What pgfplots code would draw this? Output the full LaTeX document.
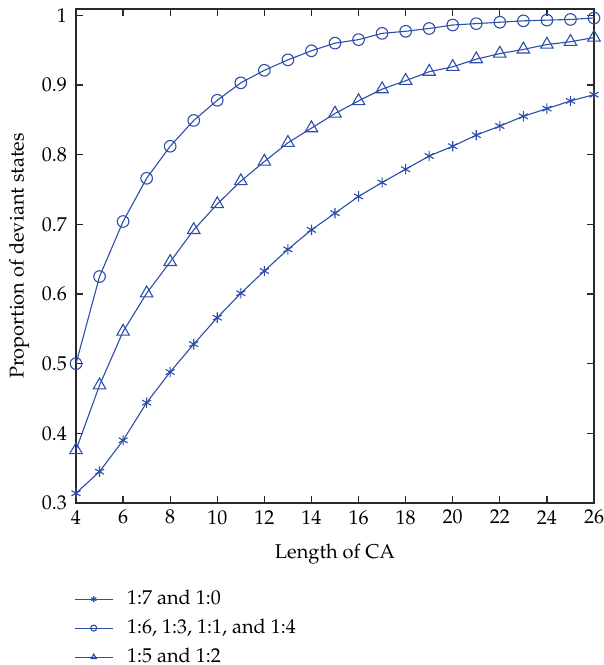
\documentclass[border=0pt]{standalone}
\usepackage[T1]{fontenc}
\usepackage{mathpazo}
\usepackage{pgfplots}
\pgfplotsset{compat=1.18}
\definecolor{lblue}{RGB}{44,78,168}
\definecolor{axgray}{RGB}{40,40,40}
\begin{document}
\begin{tikzpicture}
\begin{axis}[
  scale only axis,
  width=259pt, height=247pt,
  xmin=4, xmax=26, ymin=0.3, ymax=1.009,
  xtick={4,6,...,26},
  ytick={0.3,0.4,0.5,0.6,0.7,0.8,0.9,1},
  yticklabels={0.3,0.4,0.5,0.6,0.7,0.8,0.9,1},
  yticklabel style={xshift=-1pt},
  tick align=inside,
  major tick length=3.5pt,
  axis line style={axgray, line width=0.6pt},
  every tick/.style={axgray, line width=0.6pt},
  xlabel={Length of CA},
  ylabel={Proportion of deviant states},
  xlabel style={yshift=-3pt},
  ylabel style={yshift=-0.5pt},
  legend style={at={(axis description cs:0,0)}, anchor=north west, yshift=-39.5pt, xshift=-4pt,
    draw=none, fill=none, row sep=1.75pt, column sep=5pt, font=\normalsize},
  legend cell align=left,
  legend image code/.code={\draw[mark repeat=2,mark phase=2,#1] plot coordinates {(0cm,0cm) (0.33cm,0cm) (0.66cm,0cm)};},
  legend image post style={mark size=1.5pt},
]
\addplot[lblue, line width=0.55pt, mark=asterisk, mark size=2.6pt, mark options={solid}] coordinates {
(4,0.314) (5,0.345) (6,0.390) (7,0.444) (8,0.488) (9,0.528) (10,0.566) (11,0.601) (12,0.633) (13,0.664) (14,0.692) (15,0.716) (16,0.740) (17,0.760) (18,0.779) (19,0.798) (20,0.812) (21,0.828) (22,0.841) (23,0.855) (24,0.866) (25,0.877) (26,0.886)
};
\addlegendentry{1:7 and 1:0}
\addplot[lblue, line width=0.55pt, mark=o, mark size=2.9pt, mark options={solid}] coordinates {
(4,0.500) (5,0.625) (6,0.704) (7,0.766) (8,0.812) (9,0.849) (10,0.878) (11,0.903) (12,0.921) (13,0.936) (14,0.949) (15,0.960) (16,0.965) (17,0.974) (18,0.977) (19,0.981) (20,0.986) (21,0.988) (22,0.990) (23,0.992) (24,0.993) (25,0.994) (26,0.996)
};
\addlegendentry{1:6, 1:3, 1:1, and 1:4}
\addplot[lblue, line width=0.55pt, mark=triangle, mark size=3.6pt, mark options={solid}] coordinates {
(4,0.376) (5,0.469) (6,0.546) (7,0.601) (8,0.646) (9,0.692) (10,0.729) (11,0.762) (12,0.790) (13,0.817) (14,0.838) (15,0.859) (16,0.877) (17,0.894) (18,0.906) (19,0.919) (20,0.926) (21,0.937) (22,0.945) (23,0.951) (24,0.958) (25,0.962) (26,0.968)
};
\addlegendentry{1:5 and 1:2}
\end{axis}
\pgfresetboundingbox
\path[use as bounding box] ([xshift=-38pt,yshift=-81pt]current axis.south west) rectangle ([xshift=4.5pt,yshift=4.5pt]current axis.north east);
\end{tikzpicture}
\end{document}
